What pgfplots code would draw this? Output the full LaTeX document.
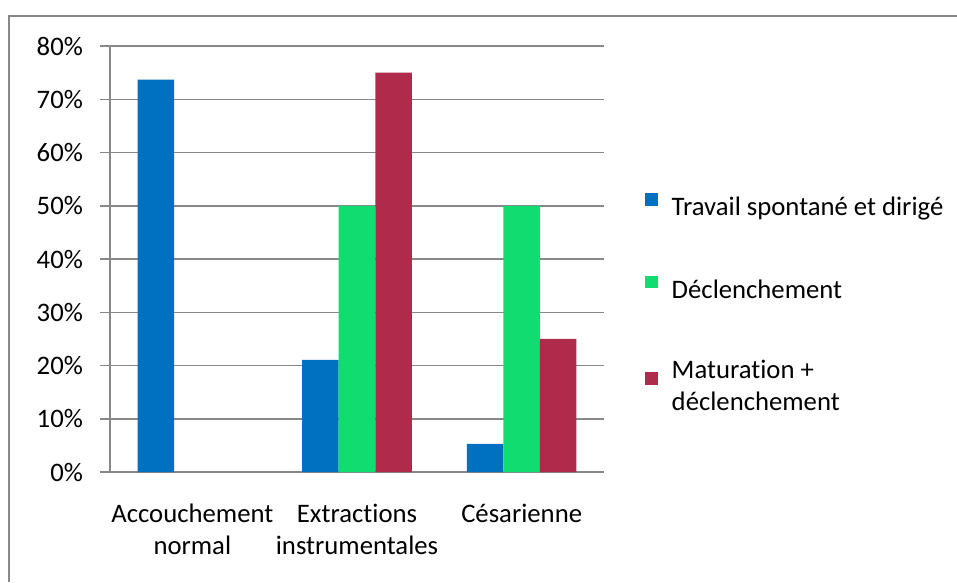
\documentclass[border=0pt]{standalone}
\usepackage{fontspec}
\setmainfont{Carlito}[Ligatures=NoCommon]
\usepackage{pgfplots}
\pgfplotsset{compat=1.18}
\definecolor{cblue}{HTML}{0070C0}
\definecolor{cgreen}{HTML}{10DC70}
\definecolor{cred}{HTML}{B02A4B}
\definecolor{cgray}{HTML}{888888}
\begin{document}
\fontsize{26.7}{32}\selectfont
\begin{tikzpicture}[x=1pt,y=1pt]
\useasboundingbox (0,0) rectangle (957,582);
\draw[cgray, line width=2.2pt] (9,0) -- (9,566) -- (957,566);
\begin{axis}[
  at={(110pt,110pt)}, anchor=south west,
  scale only axis, width=494pt, height=426pt,
  font=\fontsize{26.7}{32}\selectfont,
  xmin=-0.5, xmax=2.5, ymin=0, ymax=80,
  ybar=0pt, bar width=0.2217,
  axis x line=bottom, axis y line=left,
  axis line style={-, cgray, line width=1.8pt},
  tick align=outside,
  major tick length=10pt,
  every tick/.style={cgray, line width=1.5pt},
  ytick={0,10,...,80},
  yticklabel={\pgfmathprintnumber{\tick}\%},
  /pgf/number format/assume math mode=true,
  ymajorgrids, major grid style={cgray, line width=1.5pt},
  xtick={0,1,2},
  xticklabels={{Accouchement\\normal},{Extractions\\instrumentales},{Césarienne}},
  xticklabel style={align=center, yshift=-13pt},
  x tick style={draw=none},
  extra x ticks={-0.5,0.5,1.5,2.5},
  extra x tick labels={},
  extra x tick style={grid=none, tick style={cgray, line width=1.5pt, draw=cgray}},
  yticklabel style={xshift=-8pt},
  legend style={draw=none, fill=none, at={(1.077,0.659)}, anchor=north west,
    legend cell align=left, row sep=54pt,
    nodes={align=left, inner sep=2pt},
    /tikz/every odd column/.append style={column sep=12pt}},
  legend image code/.code={\path[#1, draw=none] (0pt,2.5pt) rectangle (12.5pt,15pt);},
]
\addplot[fill=cblue, draw=none] coordinates {(0,73.7) (1,21.05) (2,5.26)};
\addplot[fill=cgreen, draw=none] coordinates {(1,50) (2,50)};
\addplot[fill=cred, draw=none] coordinates {(1,75) (2,25)};
\legend{Travail spontané et dirigé, Déclenchement, {Maturation +\\déclenchement}}
\end{axis}
\end{tikzpicture}
\end{document}
